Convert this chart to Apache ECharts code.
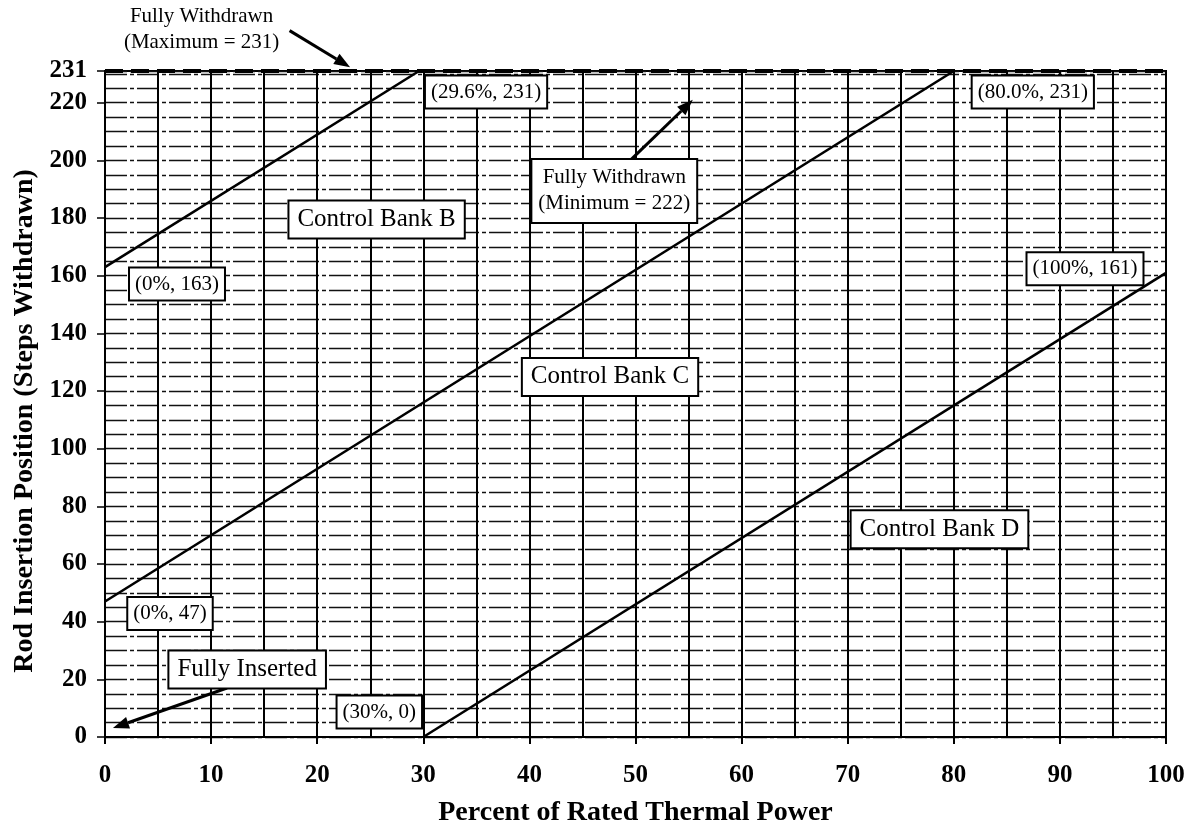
<!DOCTYPE html>
<html>
<head>
<meta charset="utf-8">
<script src="https://cdn.jsdelivr.net/npm/echarts@6/dist/echarts.min.js"></script>
<style>
  html, body { margin: 0; padding: 0; background: #fff; }
  #chart { width: 1193px; height: 832px; }
</style>
</head>
<body>
<div id="chart"></div>
<script>
// Rod insertion limits vs. thermal power for control banks B, C and D
const bankNames = ['Control Bank B', 'Control Bank C', 'Control Bank D'];
const bankB = [[0, 163], [29.6, 231]];
const bankC = [[0, 47], [80.0, 231]];
const bankD = [[30, 0], [100, 161]];
const bankBLabels = ['(0%, 163)', '(29.6%, 231)'];
const bankCLabels = ['(0%, 47)', '(80.0%, 231)'];
const bankDLabels = ['(30%, 0)', '(100%, 161)'];
const fullyWithdrawnMax = 231;
const fullyWithdrawnMin = 222;
const xTitle = 'Percent of Rated Thermal Power';
const yTitle = 'Rod Insertion Position (Steps Withdrawn)';

const SERIF = '"Liberation Serif", "DejaVu Serif", serif';

// label offsets (pixels) for each endpoint box
const labelOffsets = {
  B: [[72, 17], [67, 21]],
  C: [[65, 12], [79, 21]],
  D: [[-44, -25], [-81, -4]]
};

function endpointLabel(offset) {
  return {
    show: true,
    position: 'inside',
    offset: offset,
    fontFamily: SERIF,
    fontSize: 21,
    color: '#000',
    backgroundColor: '#fff',
    borderColor: '#000',
    borderWidth: 2,
    padding: [6, 5, 4, 5]
  };
}

function bankSeries(name, pts, texts, offsets) {
  return {
    name: name,
    type: 'line',
    symbol: 'circle',
    symbolSize: 1,
    itemStyle: { color: '#000' },
    lineStyle: { color: '#000', width: 2.6 },
    z: 5,
    data: pts.map((p, i) => ({
      value: p,
      label: Object.assign(endpointLabel(offsets[i]), { formatter: texts[i] })
    }))
  };
}

const chart = echarts.init(document.getElementById('chart'));

const option = {
  backgroundColor: '#fff',
  animation: false,
  grid: {
    left: 105, right: 27, top: 71, bottom: 95,
    outerBoundsMode: 'none',
    containLabel: false,
    show: true, borderColor: '#000', borderWidth: 2
  },
  xAxis: {
    type: 'value', min: 0, max: 100, interval: 10,
    name: xTitle, nameLocation: 'middle', nameGap: 62, nameMoveOverlap: false,
    nameTextStyle: { fontFamily: SERIF, fontWeight: 'bold', fontSize: 28, color: '#000' },
    axisLine: { show: true, lineStyle: { color: '#000', width: 2 } },
    axisTick: { show: true, length: 7, lineStyle: { color: '#000', width: 2 } },
    axisLabel: { margin: 26, fontFamily: SERIF, fontWeight: 'bold', fontSize: 25, color: '#000' },
    splitLine: { show: true, lineStyle: { color: '#000', width: 2 } },
    minorTick: { show: false, splitNumber: 2 },
    minorSplitLine: { show: true, lineStyle: { color: '#000', width: 2 } }
  },
  yAxis: {
    type: 'value', min: 0, max: fullyWithdrawnMax, interval: 20,
    name: yTitle, nameLocation: 'middle', nameGap: 66, nameMoveOverlap: false,
    nameTextStyle: {
      fontFamily: SERIF, fontWeight: 'bold', fontSize: 28, color: '#000',
      padding: [0, 34, 0, 0]
    },
    axisLine: { show: true, lineStyle: { color: '#000', width: 2 } },
    axisTick: { show: true, length: 8, lineStyle: { color: '#000', width: 1.5 } },
    axisLabel: { margin: 18, fontFamily: SERIF, fontWeight: 'bold', fontSize: 25, color: '#000' },
    splitLine: { show: true, lineStyle: { color: '#111', width: 1.3, type: [22, 3, 4, 3] } },
    minorTick: { show: false, splitNumber: 4 },
    minorSplitLine: { show: true, lineStyle: { color: '#111', width: 1.3, type: [22, 3, 4, 3] } }
  },
  series: [
    bankSeries(bankNames[0], bankB, bankBLabels, labelOffsets.B),
    bankSeries(bankNames[1], bankC, bankCLabels, labelOffsets.C),
    bankSeries(bankNames[2], bankD, bankDLabels, labelOffsets.D),
    {
      name: 'Fully Withdrawn',
      type: 'line',
      data: [],
      markLine: {
        silent: true,
        symbol: 'none',
        label: { show: false },
        lineStyle: { color: '#000', width: 4, type: [18, 8] },
        data: [{ yAxis: fullyWithdrawnMax }]
      }
    }
  ]
};

chart.setOption(option);

// Text annotations, placed in data coordinates
const notes = [
  { text: bankNames[0], at: [25.6, 179.5], size: 25 },
  { text: bankNames[1], at: [47.6, 124.9], size: 25 },
  { text: bankNames[2], at: [78.65, 72.1], size: 25 },
  { text: 'Fully Inserted', at: [13.4, 23.4], size: 25 },
  { text: 'Fully Withdrawn\n(Minimum = ' + fullyWithdrawnMin + ')', at: [48.0, 189.4], size: 21, lh: 26 }
];
const arrows = [
  { from: [17.4, 245], to: [23.1, 232.3] },
  { from: [49.5, 200], to: [55.4, fullyWithdrawnMin - 1] },
  { from: [11.5, 17], to: [0.75, 3.1] }
];

function px(p) { return chart.convertToPixel({ gridIndex: 0 }, p); }

const graphics = [];

arrows.forEach(a => {
  const s = px(a.from), t = px(a.to);
  const dx = t[0] - s[0], dy = t[1] - s[1];
  const len = Math.hypot(dx, dy), ux = dx / len, uy = dy / len;
  const hl = 16, hw = 6;
  const bx = t[0] - ux * hl, by = t[1] - uy * hl;
  graphics.push({
    type: 'line', z: 20,
    shape: { x1: s[0], y1: s[1], x2: bx, y2: by },
    style: { stroke: '#000', lineWidth: 3 }
  });
  graphics.push({
    type: 'polygon', z: 20,
    shape: { points: [[t[0], t[1]], [bx - uy * hw, by + ux * hw], [bx + uy * hw, by - ux * hw]] },
    style: { fill: '#000' }
  });
});

notes.forEach(n => {
  const c = px(n.at);
  graphics.push({
    type: 'text', z: 30, x: c[0], y: c[1],
    style: {
      text: n.text,
      font: n.size + 'px ' + SERIF,
      fill: '#000',
      align: 'center', verticalAlign: 'middle',
      lineHeight: n.lh || undefined,
      backgroundColor: '#fff',
      borderColor: '#000', borderWidth: 2,
      padding: n.lh ? [6, 6, 4, 6] : [7, 8, 4, 8]
    }
  });
});

// heading for the maximum withdrawn line, above the plot
const headingPos = px([9.1, 245.5]);
graphics.push({
  type: 'text', z: 30, x: headingPos[0], y: headingPos[1],
  style: {
    text: 'Fully Withdrawn\n(Maximum = ' + fullyWithdrawnMax + ')',
    font: '21px ' + SERIF,
    fill: '#000', align: 'center', verticalAlign: 'middle', lineHeight: 26
  }
});

chart.setOption({ graphic: graphics });
</script>
</body>
</html>
